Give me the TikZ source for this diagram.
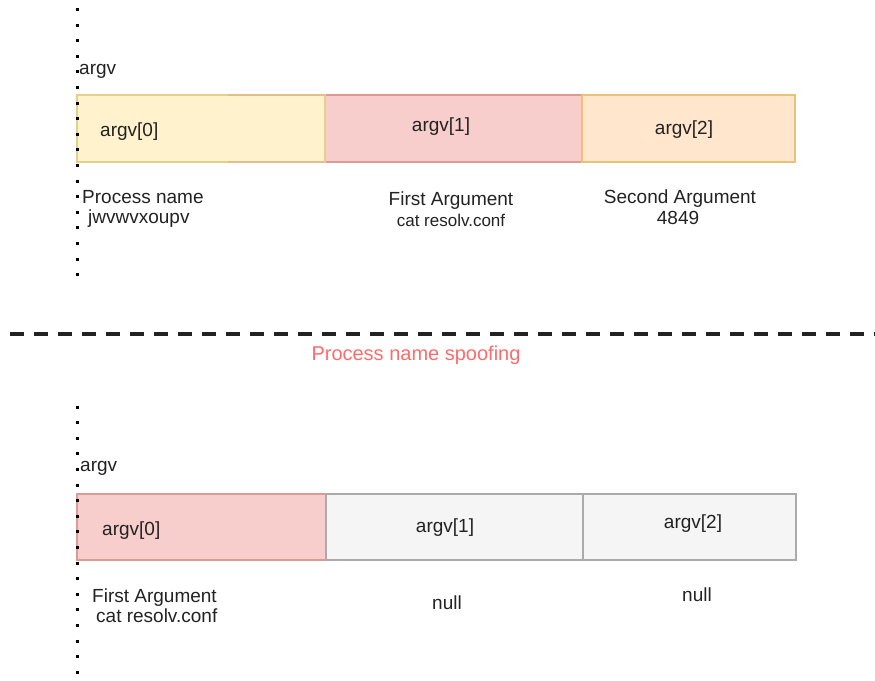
\documentclass[tikz,border=0pt]{standalone}
\usepackage{fontspec}
\setmainfont{Liberation Sans}
\definecolor{yfill}{HTML}{FFF2CC}
\definecolor{ydraw}{HTML}{E6CF8A}
\definecolor{rfill}{HTML}{F8CECC}
\definecolor{rdraw}{HTML}{DC9A97}
\definecolor{ofill}{HTML}{FFE6CC}
\definecolor{odraw}{HTML}{EBC274}
\definecolor{gfill}{HTML}{F5F5F5}
\definecolor{gdraw}{HTML}{ABABAB}
\definecolor{txtc}{HTML}{222222}
\definecolor{spoof}{HTML}{FF6B6B}
\begin{document}
\begin{tikzpicture}[x=1pt,y=-1pt,
  cell/.style={draw, line width=1.3pt, inner sep=0pt, outer sep=0pt, anchor=north west},
  txt/.style={font=\fontsize{19}{22}\selectfont, text=txtc, inner sep=0pt},
  small/.style={font=\fontsize{17}{20}\selectfont, text=txtc, inner sep=0pt},
  dotline/.style={line width=3pt, dash pattern=on 3pt off 12.6pt},
  sepline/.style={line width=3.5pt, dash pattern=on 14pt off 10pt, draw=txtc}]
\useasboundingbox (0,0) rectangle (875,680);
% top row
\node[cell, fill=rfill, draw=rdraw, minimum width=257pt, minimum height=67pt] (t1) at (325,95) {};
\node[cell, fill=yfill, draw=ydraw, minimum width=248pt, minimum height=67pt] (t0) at (77,95) {};
\node[cell, fill=ofill, draw=odraw, minimum width=213pt, minimum height=67pt] (t2) at (582,95) {};
\draw[rdraw, line width=1.3pt, opacity=0.3] (228,95) -- (t0.north east);
\draw[rdraw, line width=1.3pt, opacity=0.3] (228,162) -- (t0.south east);
% bottom row
\node[cell, fill=rfill, draw=rdraw, minimum width=249pt, minimum height=66pt] (b0) at (77,494) {};
\node[cell, fill=gfill, draw=gdraw, minimum width=257pt, minimum height=66pt] (b1) at (326,494) {};
\node[cell, fill=gfill, draw=gdraw, minimum width=213pt, minimum height=66pt] (b2) at (583,494) {};
% dotted vertical lines
\coordinate (d1a) at (77,8);
\coordinate (d1b) at (77,288);
\coordinate (d2a) at (77,405.5);
\coordinate (d2b) at (77,680);
\draw[dotline] (d1a) -- (d1b);
\draw[dotline] (d2a) -- (d2b);
% separator
\coordinate (sa) at (10,334);
\coordinate (sb) at (875,334);
\draw[sepline] (sa) -- (sb);
\node[font=\fontsize{20}{23}\selectfont, text=spoof, inner sep=0pt, anchor=base] (sp) at (416,360) {Process name spoofing};
% top texts
\node[txt, anchor=base west] (ta) at (79,74) {argv};
\node[txt, anchor=base west] (t0l) at (100,136) {argv[0]};
\node[txt, anchor=base] (t1l) at (441,131) {argv[1]};
\node[txt, anchor=base] (t2l) at (684,134) {argv[2]};
\node[txt, anchor=base west] (pn) at (82,203) {Process name};
\node[txt, anchor=base west] (pv) at (88,223) {jwvwvxoupv};
\node[txt, anchor=base] (fa) at (451,205) {First Argument};
\node[small, anchor=base] (fv) at (451,226) {cat resolv.conf};
\node[txt, anchor=base] (sa2) at (680,203) {Second Argument};
\node[txt, anchor=base] (sv) at (678,224) {4849};
% bottom texts
\node[txt, anchor=base west] (ba) at (80,471) {argv};
\node[txt, anchor=base west] (b0l) at (102,535) {argv[0]};
\node[txt, anchor=base] (b1l) at (445,532) {argv[1]};
\node[txt, anchor=base] (b2l) at (693,528) {argv[2]};
\node[txt, anchor=base west] (bfa) at (92,602) {First Argument};
\node[txt, anchor=base west] (bfv) at (96,622) {cat resolv.conf};
\node[txt, anchor=base] (bn1) at (447,609) {null};
\node[txt, anchor=base] (bn2) at (697,601) {null};
\end{tikzpicture}
\end{document}
